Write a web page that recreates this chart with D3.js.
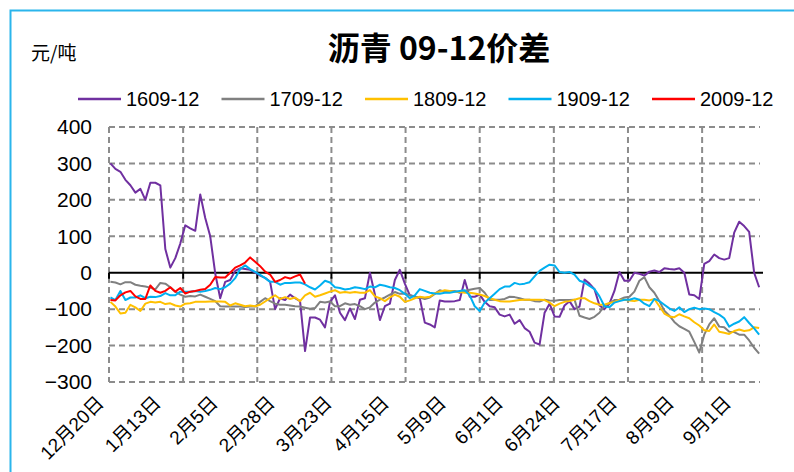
<!DOCTYPE html>
<html>
<head>
<meta charset="utf-8">
<script src="https://cdn.jsdelivr.net/npm/d3@7"></script>
<style>
  body { margin: 0; background: #fff; }
  svg { display: block; }
</style>
</head>
<body>
<svg id="chart"></svg>
<script>
// legend names, one per series
const seriesNames = ['1609-12', '1709-12', '1809-12', '1909-12', '2009-12']

// x axis labels (one every 20 days of the axis)
const tickLabels = ['12月20日', '1月13日', '2月5日', '2月28日', '3月23日', '4月15日',
                    '5月9日', '6月1日', '6月24日', '7月17日', '8月9日', '9月1日']

const yTicks = [-300, -200, -100, 0, 100, 200, 300, 400]

// spreads, 元/吨 (one value every 1.75 axis days)
const s1609 = [300, 285, 277, 255, 240, 220, 230, 200, 247, 247,
  240, 65, 14, 40, 80, 130, 122, 115, 215, 150,
  100, -2, -70, -25, -20, 5, 12, 10, 8, 0,
  -8, -14, -25, -100, -70, -75, -60, -70, -78, -215,
  -123, -123, -129, -150, -80, -62, -110, -130, -98, -127,
  -74, -70, 0, -60, -130, -92, -85, -20, 8, -30,
  -62, -65, -70, -137, -142, -150, -76, -79, -79, -78,
  -75, -20, -66, -66, -60, -80, -92, -95, -115, -120,
  -115, -140, -130, -152, -162, -192, -197, -110, -85, -120,
  -121, -90, -78, -100, -93, -19, -30, -45, -90, -100,
  -85, -50, 2, -22, -22, 0, -3, -8, 3, 6,
  2, 12, 10, 9, 12, 0, -60, -62, -72, 24,
  32, 50, 40, 36, 40, 110, 140, 128, 112, 0,
  -40]

const s1709 = [-25, -27, -32, -26, -26, -33, -36, -38, -41, -46,
  -28, -30, -40, -52, -60, -66, -64, -65, -60, -66,
  -72, -78, -92, -93, -93, -93, -93, -94, -93, -93,
  -80, -70, -78, -85, -88, -88, -90, -92, -93, -96,
  -99, -97, -80, -82, -79, -92, -92, -84, -88, -86,
  -92, -100, -95, -82, -74, -68, -60, -53, -58, -57,
  -62, -66, -68, -72, -68, -58, -48, -52, -50, -50,
  -55, -50, -47, -44, -42, -55, -75, -74, -74, -72,
  -66, -67, -70, -74, -74, -78, -79, -74, -76, -77,
  -75, -75, -75, -74, -118, -123, -127, -121, -110, -90,
  -84, -75, -74, -68, -66, -52, -22, -12, -40, -55,
  -78, -104, -118, -135, -147, -154, -162, -190, -219, -170,
  -142, -125, -148, -150, -162, -163, -170, -170, -186, -206,
  -222]

const s1809 = [-80, -93, -112, -110, -88, -95, -105, -85, -80, -82,
  -80, -86, -84, -90, -93, -85, -84, -80, -80, -80,
  -79, -79, -79, -80, -90, -84, -88, -92, -90, -92,
  -88, -79, -70, -62, -72, -67, -72, -68, -78, -62,
  -55, -66, -62, -57, -52, -48, -55, -53, -55, -53,
  -55, -55, -48, -65, -70, -78, -68, -60, -66, -80,
  -76, -70, -66, -68, -66, -57, -52, -48, -50, -52,
  -52, -55, -55, -57, -60, -64, -70, -74, -78, -79,
  -79, -77, -75, -74, -74, -74, -74, -75, -82, -92,
  -85, -80, -78, -74, -70, -70, -78, -84, -88, -88,
  -83, -80, -75, -74, -76, -78, -74, -74, -76, -72,
  -92, -112, -120, -122, -114, -120, -125, -136, -145, -158,
  -160, -142, -162, -165, -168, -160, -156, -160, -158, -150,
  -152]

const s1909 = [-68, -75, -50, -75, -68, -68, -62, -70, -66, -67,
  -64, -56, -62, -62, -52, -52, -52, -50, -52, -50,
  -47, -42, -45, -40, -30, -15, 10, 20, 10, 2,
  -6, -15, -25, -25, -33, -28, -28, -27, -27, -32,
  -40, -46, -35, -22, -27, -40, -42, -46, -44, -40,
  -42, -45, -38, -40, -33, -36, -40, -42, -48, -58,
  -70, -62, -45, -50, -55, -57, -58, -55, -55, -52,
  -50, -48, -62, -92, -105, -82, -70, -58, -45, -38,
  -38, -28, -32, -30, -26, -10, 5, 14, 22, 20,
  2, 0, 2, -5, -22, -27, -36, -45, -65, -92,
  -95, -82, -78, -74, -74, -70, -74, -85, -92, -72,
  -78, -88, -98, -105, -95, -108, -100, -96, -100, -98,
  -100, -108, -115, -125, -148, -140, -134, -122, -138, -153,
  -170]

const s2009 = [-75, -76, -62, -54, -50, -65, -72, -72, -35, -50,
  -55, -50, -40, -52, -42, -57, -52, -50, -47, -45,
  -33, -12, -13, -13, 0, 14, 20, 28, 42, 30,
  18, 3, -5, -25, -20, -12, -16, -10, -5, -30]

const allSeries = [s1609, s1709, s1809, s1909, s2009]
const colors = ['#7030A0', '#808080', '#FFC000', '#00B0F0', '#FF0000']

const width = 794
const height = 472
const axisDays = 229
const sampleStep = 1.75
const labelEvery = 20
const gridEvery = 26

const numFont = "'Liberation Sans Narrow', 'Liberation Sans', 'Noto Sans CJK SC', sans-serif"

let svg = d3.select('#chart')
  .attr('width', width)
  .attr('height', height)

// outer frame
svg.append('rect')
  .attr('x', 10.5)
  .attr('y', 10.5)
  .attr('width', 800)
  .attr('height', 500)
  .attr('fill', 'none')
  .attr('stroke', '#2BB5EC')
  .attr('stroke-width', 2)

let xScale = d3.scaleLinear()
  .domain([0, axisDays])
  .range([109, 762])

let yScale = d3.scaleLinear()
  .domain([-300, 400])
  .range([382, 127])

let x0 = xScale.range()[0]
let x1 = xScale.range()[1]

// horizontal grid
svg.append('g')
  .selectAll('line')
  .data(yTicks.filter(d => d !== 0))
  .enter()
  .append('line')
    .attr('x1', x0)
    .attr('x2', x1 - 2)
    .attr('y1', d => yScale(d))
    .attr('y2', d => yScale(d))
    .attr('stroke', '#8C8C8C')
    .attr('stroke-width', 2)
    .attr('stroke-dasharray', '6,4')

// vertical grid
let gridDays = d3.range(0, axisDays, gridEvery)
svg.append('g')
  .selectAll('line')
  .data(gridDays)
  .enter()
  .append('line')
    .attr('x1', d => xScale(d))
    .attr('x2', d => xScale(d))
    .attr('y1', yScale(400))
    .attr('y2', yScale(-300))
    .attr('stroke', '#8C8C8C')
    .attr('stroke-width', 2)
    .attr('stroke-dasharray', '6,4')

// zero line with small ticks
svg.append('line')
  .attr('x1', x0)
  .attr('x2', x1 + 1)
  .attr('y1', yScale(0))
  .attr('y2', yScale(0))
  .attr('stroke', '#000')
  .attr('stroke-width', 2)

svg.append('g')
  .selectAll('line')
  .data(gridDays)
  .enter()
  .append('line')
    .attr('x1', d => xScale(d))
    .attr('x2', d => xScale(d))
    .attr('y1', yScale(0))
    .attr('y2', yScale(0) + 6)
    .attr('stroke', '#000')
    .attr('stroke-width', 2)

// y axis labels
let yAxis = d3.axisLeft(yScale)
  .tickValues(yTicks)
  .tickSize(0)
  .tickPadding(17)
  .tickFormat(d3.format('d'))

let yG = svg.append('g')
  .attr('transform', `translate(${x0}, 0)`)
  .call(yAxis)
yG.select('.domain').remove()
yG.selectAll('text')
  .style('font-family', numFont)
  .style('font-size', '21px')
  .attr('fill', '#000')
  .text(d => d < 0 ? '\u2212' + Math.abs(d) : d)

// x axis labels, rotated
let labelDays = tickLabels.map((d, i) => i * labelEvery + 0.5)
let xAxis = d3.axisBottom(xScale)
  .tickValues(labelDays)
  .tickSize(0)
  .tickFormat((d, i) => tickLabels[i])

let xG = svg.append('g')
  .attr('transform', `translate(0, ${yScale(-300)})`)
  .call(xAxis)
xG.select('.domain').remove()
xG.selectAll('text')
  .attr('x', 0)
  .attr('y', 0)
  .attr('dy', 0)
  .attr('transform', 'translate(-6, 22) rotate(-45)')
  .style('text-anchor', 'end')
  .style('font-family', numFont)
  .style('font-size', '19px')
  .attr('fill', '#000')

// series lines
let line = d3.line()
  .x((d, i) => xScale(0.5 + i * sampleStep))
  .y(d => yScale(d))

svg.append('g')
  .selectAll('path')
  .data(allSeries)
  .enter()
  .append('path')
    .attr('d', d => line(d))
    .attr('fill', 'none')
    .attr('stroke', (d, i) => colors[i])
    .attr('stroke-width', 2)
    .attr('stroke-linejoin', 'round')

// legend
let legend = svg.append('g')
  .selectAll('g')
  .data(seriesNames)
  .enter()
  .append('g')
    .attr('transform', (d, i) => `translate(${78 + i * 143.5}, 99)`)

legend.append('line')
  .attr('x1', 0)
  .attr('x2', 43)
  .attr('stroke', (d, i) => colors[i])
  .attr('stroke-width', 2.5)

legend.append('text')
  .attr('x', 48)
  .attr('dy', '0.35em')
  .style('font-family', numFont)
  .style('font-size', '20px')
  .text(d => d)

// title
svg.append('text')
  .attr('x', 439)
  .attr('y', 60)
  .style('text-anchor', 'middle')
  .style('font-family', "'Noto Sans CJK SC', sans-serif")
  .style('font-weight', 'bold')
  .style('font-size', '32px')
  .text('沥青 09-12价差')

// unit
svg.append('text')
  .attr('x', 31)
  .attr('y', 60)
  .style('font-family', "'Noto Sans CJK SC', sans-serif")
  .style('font-size', '19px')
  .text('元/吨')
</script>
</body>
</html>
